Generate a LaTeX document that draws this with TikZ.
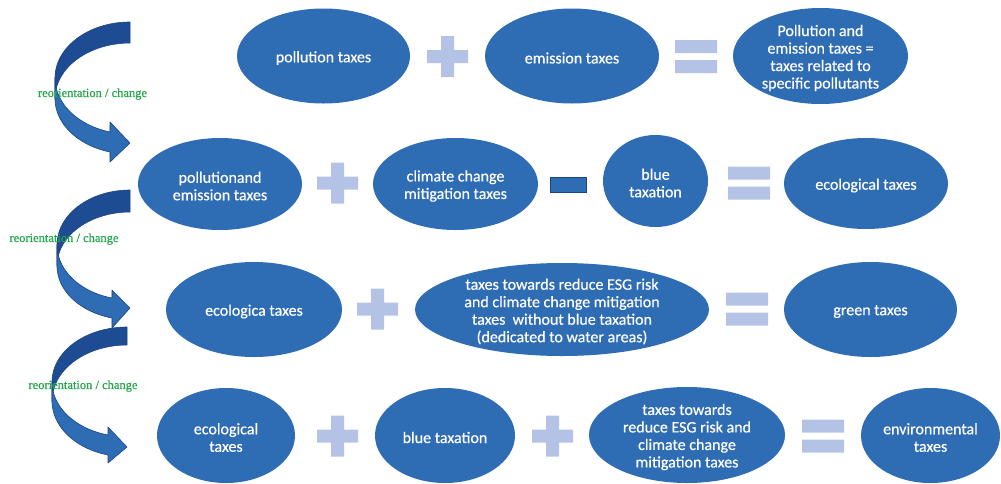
\documentclass[tikz,border=0pt]{standalone}
\usepackage{fontspec}
\newfontfamily\calfont[FakeBold=0.5]{Carlito}
\newfontfamily\serfont[FakeBold=0.8]{Liberation Serif}
\usetikzlibrary{shapes.geometric}
\definecolor{ellblue}{RGB}{46,108,180}
\definecolor{signc}{RGB}{180,195,229}
\definecolor{arrback}{RGB}{30,76,146}
\definecolor{arrfront}{RGB}{46,108,180}
\definecolor{arredge}{RGB}{28,68,132}
\definecolor{labgreen}{RGB}{38,166,76}
\tikzset{
  ell/.style={ellipse, fill=ellblue, inner sep=0pt},
  txt/.style={text=white, font=\calfont\fontsize{16}{17.5}\selectfont, align=center, inner sep=0pt, yshift=-2pt},
  lab/.style={text=labgreen, font=\serfont\fontsize{12.5}{14}\selectfont, inner sep=0pt},
  minusbox/.style={rectangle, fill=arrfront, draw=arredge, line width=1.2pt, inner sep=0pt, minimum width=36pt, minimum height=15pt},
  backband/.style={fill=arrback, draw=arredge, line width=0.6pt, line join=round},
  frontband/.style={fill=arrfront, draw=arredge, line width=0.6pt, line join=round},
  plussign/.pic={\fill[signc] (-20.5,-6.5) rectangle (20.5,6.5) (-6.5,-20.5) rectangle (6.5,20.5);},
  eqsign/.pic={\fill[signc] (-21,-16.5) rectangle (21,-3.5) (-21,3.5) rectangle (21,16.5);},
}
\begin{document}
\begin{tikzpicture}[x=1pt,y=-1pt]
\useasboundingbox (0,0) rectangle (1001,483);

% ---------- curved arrows ----------
% arrow 1
\path[backband] plot[domain=270:180,samples=40] ({130+75*cos(\x)},{78+56*sin(\x)})
  -- plot[domain=180:270,samples=40] ({130+75*cos(\x)},{98.5+55.5*sin(\x)}) -- cycle;
\path[frontband] plot[domain=180:105.47,samples=40] ({130+75*cos(\x)},{78+56*sin(\x)})
  -- (110,122) -- (130,143) -- (110,162)
  -- plot[domain=105.47:180,samples=40] ({130+75*cos(\x)},{98.5+55.5*sin(\x)}) -- cycle;
% arrow 2
\path[backband] plot[domain=270:180,samples=40] ({130+73*cos(\x)},{244.85+54.85*sin(\x)})
  -- plot[domain=180:270,samples=40] ({130+73*cos(\x)},{265.83+53.83*sin(\x)}) -- cycle;
\path[frontband] plot[domain=180:104.28,samples=40] ({130+73*cos(\x)},{244.85+54.85*sin(\x)})
  -- (112,290) -- (130,308) -- (112,328)
  -- plot[domain=104.28:180,samples=40] ({130+73*cos(\x)},{265.83+53.83*sin(\x)}) -- cycle;
% arrow 3
\path[backband] plot[domain=270:180,samples=40] ({127+75*cos(\x)},{381.9+54.9*sin(\x)})
  -- plot[domain=180:270,samples=40] ({127+75*cos(\x)},{400.9+55.9*sin(\x)}) -- cycle;
\path[frontband] plot[domain=180:104.67,samples=40] ({127+75*cos(\x)},{381.9+54.9*sin(\x)})
  -- (108,427) -- (127,447) -- (108,463)
  -- plot[domain=104.67:180,samples=40] ({127+75*cos(\x)},{400.9+55.9*sin(\x)}) -- cycle;

\node[lab] (l1) at (92.5,94) {reorientation / change};
\node[lab] (l2) at (64,239) {reorientation / change};
\node[lab] (l3) at (83,386) {reorientation / change};

% ---------- row 1 ----------
\node[ell, minimum width=173pt, minimum height=95pt] (e1) at (323.5,56) {};
\node[txt] at (e1) {pollution taxes};
\pic at (447.5,56.5) {plussign};
\node[ell, minimum width=174pt, minimum height=95pt] (e2) at (572,56) {};
\node[txt] at (e2) {emission taxes};
\pic at (696,56.5) {eqsign};
\node[ell, minimum width=175pt, minimum height=96pt] (e3) at (820.5,56) {};
\node[txt] at (e3) {Pollution and\\emission taxes =\\taxes related to\\specific pollutants};

% ---------- row 2 ----------
\node[ell, minimum width=164pt, minimum height=92pt] (e4) at (220,184) {};
\node[txt] at (e4) {pollutionand\\emission taxes};
\pic at (337.5,183) {plussign};
\node[ell, minimum width=165pt, minimum height=92pt] (e5) at (455.5,184) {};
\node[txt] at (e5) {climate change\\mitigation taxes};
\node[minusbox] (minus) at (568.5,185) {};
\node[ell, minimum width=105pt, minimum height=92pt] (e6) at (655.5,181) {};
\node[txt] at (e6) {blue\\taxation};
\pic at (749,183) {eqsign};
\node[ell, minimum width=164pt, minimum height=91pt] (e7) at (866,183.5) {};
\node[txt] at (e7) {ecological taxes};

% ---------- row 3 ----------
\node[ell, minimum width=176pt, minimum height=95pt] (e8) at (254,309.5) {};
\node[txt] at (e8) {ecologica taxes};
\pic at (377.5,309) {plussign};
\node[ell, minimum width=294pt, minimum height=93pt] (e9) at (562,309.5) {};
\node[txt] at (e9) {taxes towards reduce ESG risk\\and climate change mitigation\\taxes\ \ without blue taxation\\(dedicated to water areas)};
\pic at (747,309) {eqsign};
\node[ell, minimum width=173pt, minimum height=95pt] (e10) at (870.5,309.5) {};
\node[txt] at (e10) {green taxes};

% ---------- row 4 ----------
\node[ell, minimum width=138pt, minimum height=95pt] (e11) at (226,435.5) {};
\node[txt] at (e11) {ecological\\taxes};
\pic at (337.5,436) {plussign};
\node[ell, minimum width=140pt, minimum height=95pt] (e12) at (445,435.5) {};
\node[txt] at (e12) {blue taxation};
\pic at (552.5,436) {plussign};
\node[ell, minimum width=196pt, minimum height=96pt] (e13) at (687,435) {};
\node[txt] at (e13) {taxes towards\\reduce ESG risk and\\climate change\\mitigation taxes};
\pic at (823,436) {eqsign};
\node[ell, minimum width=139pt, minimum height=95pt] (e14) at (930.5,435.5) {};
\node[txt] at (e14) {environmental\\taxes};
\end{tikzpicture}
\end{document}
